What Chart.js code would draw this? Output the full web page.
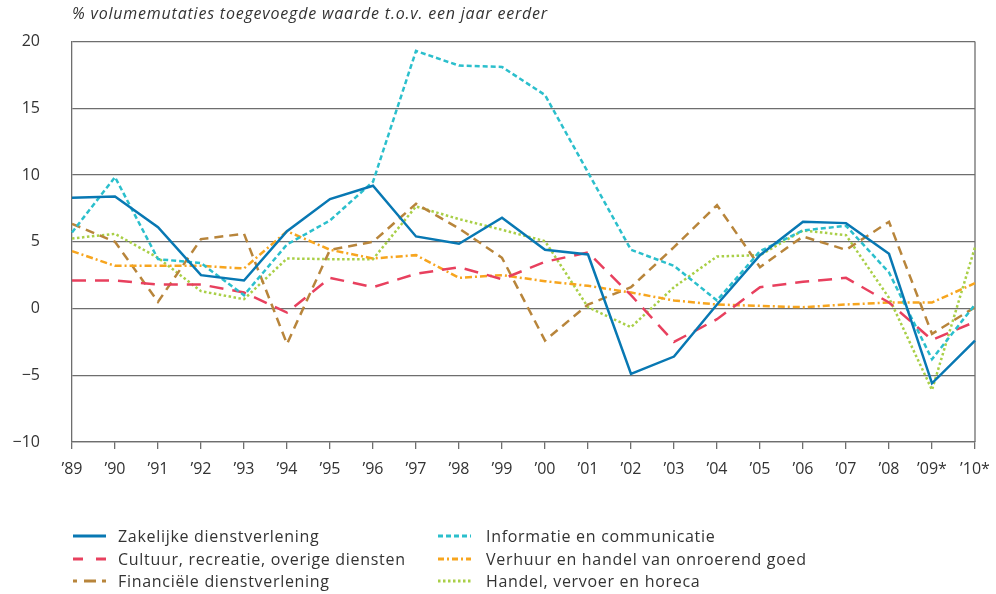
<!DOCTYPE html>
<html>
<head>
<meta charset="utf-8">
<script src="https://cdn.jsdelivr.net/npm/chart.js@4/dist/chart.umd.min.js"></script>
<style>
  body { margin: 0; background: #fff; font-family: "Open Sans", sans-serif; color: #333; }
  #wrap { position: relative; width: 996px; height: 594px; }
  #title { position: absolute; left: 72px; top: 2px; font-size: 16px; letter-spacing: 0.8px; font-style: italic; color: #333; }
  .legend { position: absolute; left: 0; top: 525px; }
  .item { position: absolute; height: 22px; line-height: 22px; font-size: 16px; letter-spacing: 0.7px; white-space: nowrap; }
  .item svg { position: absolute; top: 6px; left: 0; }
  .item span { position: absolute; }
</style>
</head>
<body>
<div id="wrap">
  <canvas id="chart" width="996" height="594"></canvas>
  <div id="title">% volumemutaties toegevoegde waarde t.o.v. een jaar eerder</div>
  <div class="legend" id="legend"></div>
</div>
<script>
const years = ['89', '90', '91', '92', '93', '94', '95', '96', '97', '98', '99',
  '00', '01', '02', '03', '04', '05', '06', '07', '08', '09*', '10*'];

const zakelijke = [8.3, 8.4, 6.1, 2.5, 2.1, 5.8, 8.2, 9.2, 5.4, 4.85, 6.8, 4.4, 4.05, -4.9, -3.6, 0.3, 4.0, 6.5, 6.4, 4.1, -5.6, -2.4];
const informatie = [5.7, 9.85, 3.7, 3.4, 1.0, 4.8, 6.6, 9.5, 19.3, 18.2, 18.1, 16.0, 10.2, 4.4, 3.2, 0.6, 4.3, 5.85, 6.2, 2.7, -3.8, 0.3];
const cultuur = [2.1, 2.1, 1.8, 1.8, 1.2, -0.3, 2.3, 1.6, 2.6, 3.1, 2.2, 3.5, 4.2, 1.0, -2.5, -0.8, 1.6, 2.0, 2.3, 0.45, -2.35, -1.0];
const financiele = [6.35, 5.0, 0.5, 5.2, 5.6, -2.65, 4.4, 5.0, 7.85, 6.0, 3.8, -2.4, 0.3, 1.6, 4.6, 7.75, 3.1, 5.4, 4.4, 6.5, -1.9, 0.1];
const verhuur = [4.3, 3.2, 3.2, 3.2, 3.0, 5.8, 4.4, 3.75, 4.0, 2.3, 2.5, 2.05, 1.7, 1.2, 0.6, 0.3, 0.2, 0.1, 0.3, 0.45, 0.45, 1.9];
const handel = [5.25, 5.6, 3.8, 1.3, 0.7, 3.75, 3.7, 3.7, 7.65, 6.7, 5.9, 5.05, 0.1, -1.4, 1.6, 3.9, 4.0, 5.85, 5.5, 0.8, -6.1, 4.6];

// dash = line pattern in the chart, key = pattern of the legend sample
const series = [
  { label: 'Zakelijke dienstverlening', data: zakelijke, color: '#0878b3', dash: [], key: 'none', col: 0, row: 0 },
  { label: 'Informatie en communicatie', data: informatie, color: '#2bbfcc', dash: [5, 3], key: '5,3', col: 1, row: 0 },
  { label: 'Cultuur, recreatie, overige diensten', data: cultuur, color: '#e8405e', dash: [14, 9], key: '10,13', col: 0, row: 1 },
  { label: 'Verhuur en handel van onroerend goed', data: verhuur, color: '#f7a51e', dash: [7, 3, 2, 3], key: '6,3,2,3', col: 1, row: 1 },
  { label: 'Financiële dienstverlening', data: financiele, color: '#b8853b', dash: [9, 6], key: '4,7,12,6,4', col: 0, row: 2 },
  { label: 'Handel, vervoer en horeca', data: handel, color: '#a9cf47', dash: [2.5, 2.5], key: '2.5,2.5', col: 1, row: 2 },
];

const gridColor = '#6e6e6e';

const rightBorder = {
  id: 'rightBorder',
  beforeDatasetsDraw(chart) {
    const { ctx, chartArea } = chart;
    ctx.save();
    ctx.strokeStyle = gridColor;
    ctx.lineWidth = 1.3;
    ctx.beginPath();
    ctx.moveTo(chartArea.right, chartArea.top);
    ctx.lineTo(chartArea.right, chartArea.bottom);
    ctx.stroke();
    ctx.restore();
  }
};

new Chart(document.getElementById('chart'), {
  type: 'line',
  data: {
    labels: years.map(y => '\u2019' + y),
    datasets: series.map(s => ({
      label: s.label,
      data: s.data,
      borderColor: s.color,
      backgroundColor: s.color,
      borderDash: s.dash,
      borderWidth: 2.5,
      pointRadius: 0,
      tension: 0,
      fill: false,
    })),
  },
  options: {
    responsive: false,
    animation: false,
    layout: { padding: { left: 0, right: 21, top: 40, bottom: 102 } },
    plugins: {
      legend: { display: false },
      tooltip: { enabled: false },
    },
    scales: {
      x: {
        offset: false,
        grid: { drawOnChartArea: false, drawTicks: true, tickLength: 7, color: gridColor, lineWidth: 1.3 },
        border: { display: true, color: gridColor, width: 1.3 },
        ticks: { color: '#333', font: { family: 'Open Sans', size: 16 }, padding: 11, maxRotation: 0, autoSkip: false },
        afterFit(scale) { scale.height = 50; scale.paddingLeft = 0; scale.paddingRight = 0; },
      },
      y: {
        min: -10,
        max: 20,
        grid: { drawTicks: false, color: gridColor, lineWidth: 1.3 },
        border: { display: true, color: gridColor, width: 1.3 },
        ticks: {
          stepSize: 5,
          color: '#333',
          font: { family: 'Open Sans', size: 16 },
          padding: 32,
          callback: v => (v < 0 ? '\u2212' + Math.abs(v) : String(v)),
        },
        afterFit(scale) { scale.width = 72; },
      },
    },
  },
  plugins: [rightBorder],
});

// legend in two columns
const legend = document.getElementById('legend');
series.forEach(s => {
  const item = document.createElement('div');
  item.className = 'item';
  item.style.left = (s.col === 0 ? 73 : 438) + 'px';
  item.style.top = (s.row * 22.5) + 'px';
  item.innerHTML =
    '<svg width="34" height="10"><line x1="0" y1="5" x2="33" y2="5" stroke="' + s.color +
    '" stroke-width="3" stroke-dasharray="' + s.key + '"/></svg>' +
    '<span style="left:' + (s.col === 0 ? 45 : 48) + 'px">' + s.label + '</span>';
  legend.appendChild(item);
});
</script>
</body>
</html>
